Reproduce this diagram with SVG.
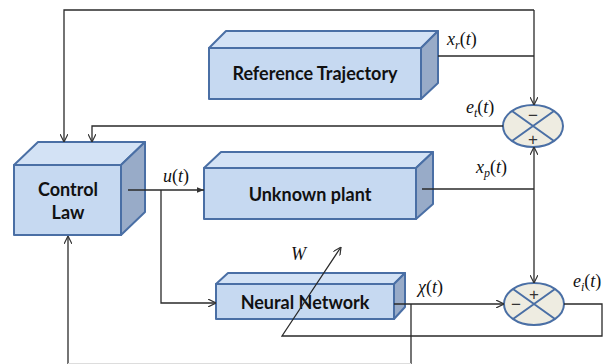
<svg xmlns="http://www.w3.org/2000/svg" width="610" height="364" viewBox="0 0 610 364">
<style>
.front{fill:#c6d9f1;stroke:#4a6fa5;stroke-width:2;stroke-linejoin:round}
.top{fill:#d3e2f5;stroke:#4a6fa5;stroke-width:2;stroke-linejoin:round}
.side{fill:#98abc8;stroke:#4a6fa5;stroke-width:2;stroke-linejoin:round}
.lbl{font-family:Lato,"Liberation Sans",sans-serif;font-weight:bold;font-size:18px;fill:#111;text-anchor:middle}
.sum{fill:#eeece1;stroke:#4a6fa5;stroke-width:2}
.cross{stroke:#4a6fa5;stroke-width:2;fill:none}
.sgn{font-family:"Liberation Sans",sans-serif;font-size:17px;fill:#333;text-anchor:middle}
.ln{fill:none;stroke:#2a2a2a;stroke-width:1.3}
.math{font-family:"Liberation Serif",serif;font-style:italic;font-size:18px;fill:#111}
.up{font-style:normal}
.sub{font-size:12px}
</style>
<defs>
<marker id="v" viewBox="0 0 10 10" refX="10" refY="5" markerWidth="8" markerHeight="8" orient="auto" markerUnits="userSpaceOnUse">
<path d="M0,0 L10,5 L0,10" fill="none" stroke="#333" stroke-width="1.5"/>
</marker>
<marker id="f" viewBox="0 0 10 10" refX="10" refY="5" markerWidth="7" markerHeight="7" orient="auto" markerUnits="userSpaceOnUse">
<path d="M0,1 L10,5 L0,9 Z" fill="#333"/>
</marker>
</defs>

<g id="control-law">
<polygon class="top" points="14,165 38,142 145,142 121,165"/>
<polygon class="side" points="121,165 145,142 145,212 121,235"/>
<rect class="front" x="14" y="165" width="107" height="70"/>
<text class="lbl" x="68" y="196">Control</text>
<text class="lbl" x="68" y="219">Law</text>
</g>

<g id="reference-trajectory">
<polygon class="top" points="209,48 226,31 438,31 421,48"/>
<polygon class="side" points="421,48 438,31 438,83 421,99"/>
<rect class="front" x="209" y="48" width="212" height="51"/>
<text class="lbl" x="315" y="80">Reference Trajectory</text>
</g>

<g id="unknown-plant">
<polygon class="top" points="204,168 221,152 433,152 416,168"/>
<polygon class="side" points="416,168 433,152 433,204 416,219"/>
<rect class="front" x="204" y="168" width="212" height="51"/>
<text class="lbl" x="310" y="201">Unknown plant</text>
</g>

<g id="neural-network">
<polygon class="top" points="216,284 228,273 405,273 394,284"/>
<polygon class="side" points="394,284 405,273 405,307 394,319"/>
<rect class="front" x="216" y="284" width="178" height="35"/>
<text class="lbl" x="305" y="309">Neural Network</text>
</g>

<g id="sum-top">
<ellipse class="sum" cx="533" cy="126" rx="30" ry="21"/>
<path class="cross" d="M512,111 L554,141 M512,141 L554,111"/>
<text class="sgn" x="533" y="121">−</text>
<text class="sgn" x="533" y="145">+</text>
</g>

<g id="sum-bottom">
<ellipse class="sum" cx="534" cy="304" rx="30" ry="21"/>
<path class="cross" d="M513,289 L555,319 M513,319 L555,289"/>
<text class="sgn" x="534" y="300">+</text>
<text class="sgn" x="516" y="310">−</text>
</g>

<g id="connectors">
<polyline class="ln" points="534,10 64,10 64,142" marker-end="url(#v)"/>
<line class="ln" x1="534" y1="10" x2="534" y2="105" marker-end="url(#v)"/>
<line class="ln" x1="438" y1="56" x2="534" y2="56"/>
<polyline class="ln" points="503,126 92,126 92,142" marker-end="url(#v)"/>
<line class="ln" x1="128" y1="190" x2="204" y2="190" marker-end="url(#f)"/>
<polyline class="ln" points="161,190 161,303 216,303" marker-end="url(#v)"/>
<line class="ln" x1="422" y1="189" x2="534" y2="189"/>
<line class="ln" x1="534" y1="189" x2="534" y2="147" marker-end="url(#v)"/>
<line class="ln" x1="534" y1="189" x2="534" y2="283" marker-end="url(#v)"/>
<line class="ln" x1="394" y1="304" x2="504" y2="304" marker-end="url(#v)"/>
<polyline class="ln" points="564,304 602,304 602,336 282,336 341,247" marker-end="url(#v)"/>
<line class="ln" x1="411" y1="304" x2="411" y2="364"/>
<line class="ln" x1="68" y1="364" x2="68" y2="236" marker-end="url(#v)"/>
<line x1="68" y1="363.5" x2="411" y2="363.5" stroke="#ddd" stroke-width="1"/>
</g>

<g id="labels">
<text class="math" x="447" y="45">x<tspan class="sub" dy="4">r</tspan><tspan class="up" dy="-4">(</tspan>t<tspan class="up">)</tspan></text>
<text class="math" x="466" y="113">e<tspan class="sub" dy="4">t</tspan><tspan class="up" dy="-4">(</tspan>t<tspan class="up">)</tspan></text>
<text class="math" x="476" y="173">x<tspan class="sub" dy="4">p</tspan><tspan class="up" dy="-4">(</tspan>t<tspan class="up">)</tspan></text>
<text class="math" x="163" y="182">u<tspan class="up">(</tspan>t<tspan class="up">)</tspan></text>
<text class="math" x="418" y="293">χ<tspan class="up">(</tspan>t<tspan class="up">)</tspan></text>
<text class="math" x="573" y="287">e<tspan class="sub" dy="4">i</tspan><tspan class="up" dy="-4">(</tspan>t<tspan class="up">)</tspan></text>
<text class="math" x="291" y="260">W</text>
</g>
</svg>
